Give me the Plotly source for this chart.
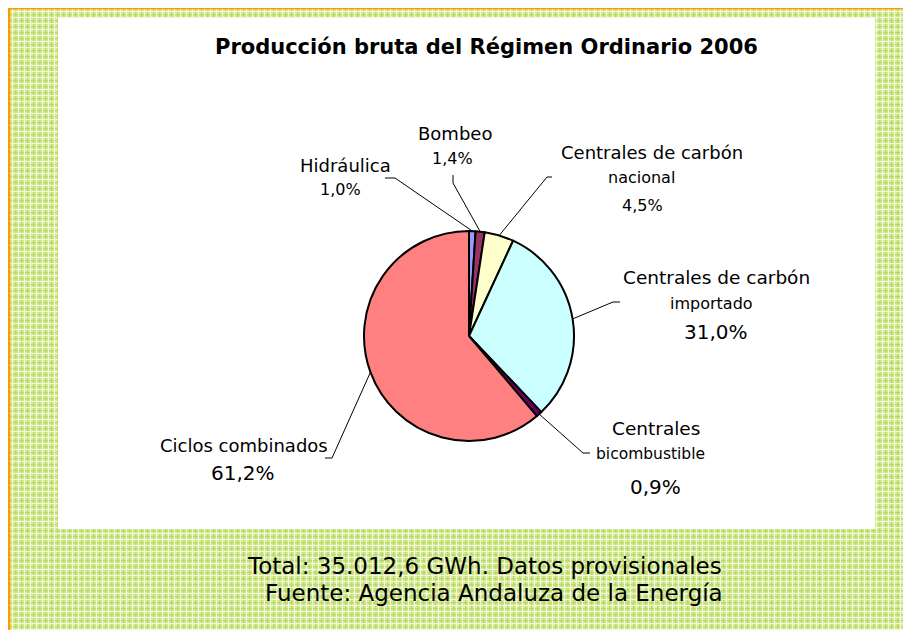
import math
import base64
import plotly.graph_objects as go

# ---------------- data ----------------
categories = ["Hidráulica", "Bombeo", "Centrales de carbón nacional",
              "Centrales de carbón importado", "Centrales bicombustible",
              "Ciclos combinados"]
values = [1.0, 1.4, 4.5, 31.0, 0.9, 61.2]
pct_labels = ["1,0%", "1,4%", "4,5%", "31,0%", "0,9%", "61,2%"]
name_line1 = ["Hidráulica", "Bombeo", "Centrales de carbón", "Centrales de carbón",
              "Centrales", "Ciclos combinados"]
name_line2 = ["", "", "nacional", "importado", "bicombustible", ""]
title_text = "Producción bruta del Régimen Ordinario 2006"
footer1 = "Total: 35.012,6 GWh. Datos provisionales"
footer2 = "Fuente: Agencia Andaluza de la Energía"

# ---------------- styles / layout ----------------
colors = ["#9999FF", "#993366", "#FFFFCC", "#CCFFFF", "#660066", "#FF8080"]
SW, SH = 911, 630          # screen size
OX, OY = 8, 8              # page body margin
W, H = SW - OX, SH - OY    # figure size
CX, CY, R = 469, 336, 105  # pie centre / radius in screen pixels
FONT = "DejaVu Sans"

def px(x):
    return (x - OX) / W

def py(y):
    return 1 - (y - OY) / H

# label positions (screen pixel centres, font size)
lab_pos = [
    {"l1": (345, 165, 18), "pct": (340, 190, 16)},
    {"l1": (455, 133, 18), "pct": (452, 158, 16)},
    {"l1": (652, 152, 18), "l2": (641, 178, 16), "pct": (642, 206, 16)},
    {"l1": (716, 277, 18.5), "l2": (711, 303, 16), "pct": (716, 332, 20)},
    {"l1": (656, 428, 18.5), "l2": (650, 454, 15.5), "pct": (655, 487, 20)},
    {"l1": (244, 445, 18), "pct": (243, 473, 20)},
]
# leader bends / ends (screen pixels)
leader = [
    ((395, 178), (385, 178)),
    ((453, 183), (453, 175)),
    ((547, 177), (552, 177)),
    ((613, 302), (620, 302)),
    ((583, 453), (590, 453)),
    ((332, 458), (325, 458)),
]

# ---------------- background pattern ----------------
bw, bh = SW - 9 + 20, SH - 8 + 20
svg = (
    f'<svg xmlns="http://www.w3.org/2000/svg" width="{bw}" height="{bh}">'
    '<defs><pattern id="p" width="6" height="6" patternUnits="userSpaceOnUse">'
    '<rect width="6" height="6" fill="#d8eca2"/>'
    '<rect x="0" y="0" width="1.5" height="6" fill="#bedb66"/>'
    '<rect x="0" y="0" width="6" height="1.5" fill="#bedb66"/>'
    '<rect x="3" y="0" width="1" height="6" fill="#f1f8dc"/>'
    '<rect x="0" y="3" width="6" height="1" fill="#f1f8dc"/>'
    '</pattern></defs>'
    f'<rect width="{bw}" height="{bh}" fill="url(#p)"/></svg>'
)
svg_uri = "data:image/svg+xml;base64," + base64.b64encode(svg.encode()).decode()

fig = go.Figure()
fig.add_trace(go.Pie(
    labels=categories, values=values, sort=False, direction="clockwise",
    rotation=0, textinfo="none", showlegend=False,
    marker=dict(colors=colors, line=dict(color="#000000", width=2)),
    domain=dict(x=[px(CX - R), px(CX + R)], y=[py(CY + R), py(CY - R)]),
    hovertemplate="%{label}: %{value}%<extra></extra>",
))

shapes = [
    dict(type="rect", xref="paper", yref="paper", x0=px(58), x1=px(875),
         y0=py(529), y1=py(18), fillcolor="white", line=dict(width=0), layer="below"),
    dict(type="line", xref="paper", yref="paper", x0=px(9), x1=px(9),
         y0=py(7), y1=py(SH + 5), line=dict(color="#FF9900", width=2.5), layer="below"),
    dict(type="line", xref="paper", yref="paper", x0=px(8), x1=px(SW + 5),
         y0=py(8), y1=py(8), line=dict(color="#FF9900", width=2.5), layer="below"),
]

total = sum(values)
cum = 0.0
for i, v in enumerate(values):
    theta = 2 * math.pi * (cum + v / 2) / total
    cum += v
    ex = CX + R * math.sin(theta)
    ey = CY - R * math.cos(theta)
    (bx, by), (tx, ty) = leader[i]
    path = f"M {px(ex)},{py(ey)} L {px(bx)},{py(by)} L {px(tx)},{py(ty)}"
    shapes.append(dict(type="path", xref="paper", yref="paper", path=path,
                       line=dict(color="#000000", width=1), layer="above"))

annotations = []

def ann(text, x, y, size, bold=False):
    annotations.append(dict(
        text=f"<b>{text}</b>" if bold else text, x=px(x), y=py(y),
        xref="paper", yref="paper", xanchor="center", yanchor="middle",
        showarrow=False, font=dict(family=FONT, size=size, color="#000000")))

for i in range(len(categories)):
    p = lab_pos[i]
    ann(name_line1[i], *p["l1"])
    if name_line2[i]:
        ann(name_line2[i], *p["l2"])
    ann(pct_labels[i], *p["pct"])

ann(title_text, 487, 47, 21, bold=True)
ann(footer1, 484, 566, 23)
ann(footer2, 494, 593, 23)

fig.update_layout(
    width=W, height=H, margin=dict(l=0, r=0, t=0, b=0),
    paper_bgcolor="white", plot_bgcolor="white",
    shapes=shapes, annotations=annotations,
    images=[dict(source=svg_uri, xref="paper", yref="paper", x=px(9), y=py(8),
                 sizex=bw / W, sizey=bh / H, xanchor="left", yanchor="top",
                 sizing="stretch", layer="below")],
)

fig.write_html("out.html")
